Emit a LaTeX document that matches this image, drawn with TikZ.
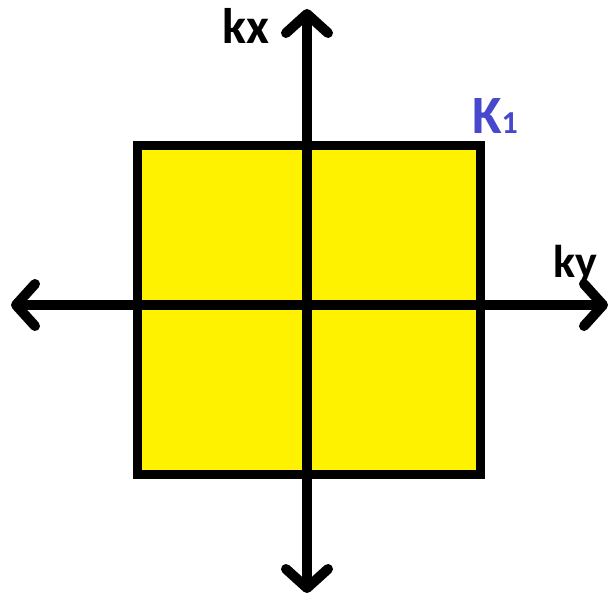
\documentclass[tikz,border=0pt]{standalone}
\usepackage{fontspec}
\setmainfont{Carlito}
\usetikzlibrary{arrows.meta}
\definecolor{paintyellow}{RGB}{255,242,0}
\definecolor{kblue}{RGB}{72,72,204}
\begin{document}
\begin{tikzpicture}[x=1pt,y=-1pt,
  axis/.style={line width=10pt,draw=black,
    {Straight Barb[length=19pt,width=42pt,round]}-{Straight Barb[length=19pt,width=42pt,round]}},
  boxstyle/.style={fill=paintyellow,draw=black,line width=9pt},
  lbl/.style={anchor=base west,inner sep=0pt,font=\bfseries}]
\useasboundingbox (0,0) rectangle (613,597);
\draw[boxstyle] (137.5,145.5) rectangle (480,474.5);
\coordinate (top) at (307,9);
\coordinate (bottom) at (307,593);
\coordinate (left) at (11,305);
\coordinate (right) at (608,305);
\draw[axis] (bottom) -- (top);
\draw[axis] (left) -- (right);
\node[lbl,font=\bfseries\fontsize{50}{50}\selectfont] (kx) at (222,43) {kx};
\node[lbl,font=\bfseries\fontsize{46}{46}\selectfont] (ky) at (553,277) {ky};
\node[lbl,text=kblue,font=\bfseries\fontsize{54}{54}\selectfont] (k1) at (472,133) {K\fontsize{32}{32}\selectfont 1};
\end{tikzpicture}
\end{document}
